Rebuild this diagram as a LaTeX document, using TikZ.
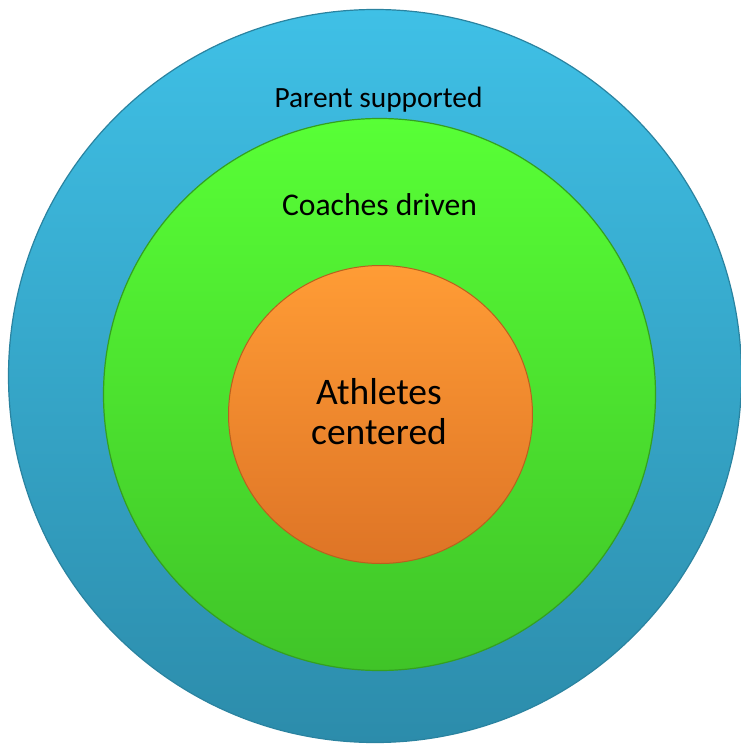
\documentclass[tikz,border=0pt]{standalone}
\usepackage{fontspec}
\setmainfont{Carlito}
\definecolor{bluetop}{HTML}{3FC0E6}
\definecolor{bluebot}{HTML}{2C8CAB}
\definecolor{blueedge}{HTML}{2A83A0}
\definecolor{greentop}{HTML}{58FF36}
\definecolor{greenbot}{HTML}{40C428}
\definecolor{greenedge}{HTML}{34A020}
\definecolor{orangetop}{HTML}{FF9C35}
\definecolor{orangebot}{HTML}{DE7426}
\definecolor{orangeedge}{HTML}{B9601E}
\tikzset{
  ring/.style={circle, inner sep=0pt, minimum size=#1},
  lbl/.style={font=\fontsize{29.4}{34}\selectfont, text=black, inner sep=0pt},
  midlbl/.style={font=\fontsize{31.6}{36}\selectfont, text=black, inner sep=0pt},
  biglbl/.style={font=\fontsize{37.5}{40}\selectfont, text=black, inner sep=0pt, align=center}
}
\begin{document}
\begin{tikzpicture}[x=1pt,y=-1pt]
\useasboundingbox (0,0) rectangle (740,746);
\node[ring=733pt, top color=bluetop, bottom color=bluebot, draw=blueedge, line width=1.2pt] (outer) at (375,376) {};
\node[ring=552pt, top color=greentop, bottom color=greenbot, draw=greenedge, line width=1.2pt] (middle) at (379.5,394.5) {};
\node[ring=298pt, top color=orangetop, bottom color=orangebot, draw=orangeedge, line width=1pt, xscale=1.02] (inner) at (380.5,414.5) {};
\node[lbl, anchor=base] (parent) at (378.5,108) {Parent supported};
\node[midlbl, anchor=base] (coach) at (379.5,215) {Coaches driven};
\node[biglbl, anchor=base] (ath) at (379,404) {Athletes};
\node[biglbl, anchor=base] (cen) at (379,444) {centered};
\end{tikzpicture}
\end{document}
